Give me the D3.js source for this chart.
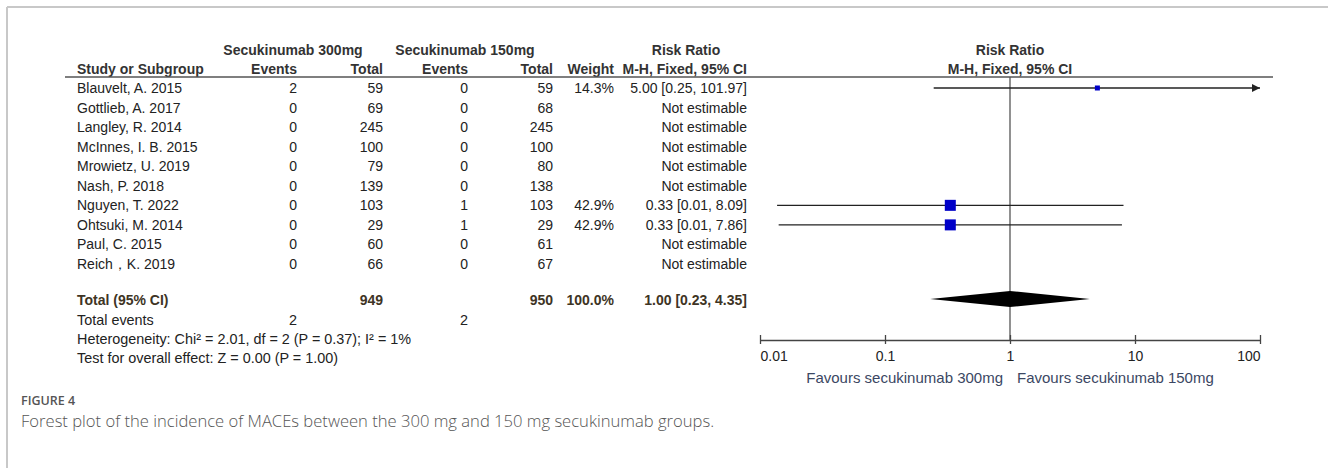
<!DOCTYPE html>
<html>
<head>
<meta charset="utf-8">
<script src="https://cdn.jsdelivr.net/npm/d3@7"></script>
<style>
  html, body { margin: 0; padding: 0; background: #fff; }
  svg { display: block; }
  .tbl { font-family: "Liberation Sans", Arial, sans-serif; font-size: 14px; fill: #222; }
  .hdr { font-weight: bold; fill: #333; }
  .tot { font-weight: bold; fill: #3e3424; }
  .foot { font-size: 14.4px; }
  .fav { font-family: "Liberation Sans", Arial, sans-serif; font-size: 15px; fill: #3b4763; }
  .cap { font-family: "Open Sans", "Noto Sans", sans-serif; fill: #555; }
</style>
</head>
<body>
<svg id="chart" width="1328" height="468"></svg>
<script>
// Study-level data
const studies = ["Blauvelt, A. 2015", "Gottlieb, A. 2017", "Langley, R. 2014", "McInnes, I. B. 2015",
  "Mrowietz, U. 2019", "Nash, P. 2018", "Nguyen, T. 2022", "Ohtsuki, M. 2014", "Paul, C. 2015", "Reich，K. 2019"];
const events300 = [2, 0, 0, 0, 0, 0, 0, 0, 0, 0];
const total300  = [59, 69, 245, 100, 79, 139, 103, 29, 60, 66];
const events150 = [0, 0, 0, 0, 0, 0, 1, 1, 0, 0];
const total150  = [59, 68, 245, 100, 80, 138, 103, 29, 61, 67];
const weights   = [14.3, null, null, null, null, null, 42.9, 42.9, null, null];
const riskRatio = [5.00, null, null, null, null, null, 0.333, 0.333, null, null];
const ciLower   = [0.2452, null, null, null, null, null, 0.0137, 0.0141, null, null];
const ciUpper   = [101.97, null, null, null, null, null, 8.09, 7.86, null, null];

// Pooled result
const pooledTotal300 = 949, pooledTotal150 = 950, pooledWeight = 100.0;
const pooledRR = 1.00, pooledLower = 0.23, pooledUpper = 4.35;
const totalEvents300 = 2, totalEvents150 = 2;
const heterogeneityText = "Heterogeneity: Chi² = 2.01, df = 2 (P = 0.37); I² = 1%";
const overallEffectText = "Test for overall effect: Z = 0.00 (P = 1.00)";

// Axis
const axisTicks = [0.01, 0.1, 1, 10, 100];
const tickLabels = ["0.01", "0.1", "1", "10", "100"];
const favoursLeft = "Favours secukinumab 300mg";
const favoursRight = "Favours secukinumab 150mg";

const captionLabel = "FIGURE 4";
const captionText = "Forest plot of the incidence of MACEs between the 300 mg and 150 mg secukinumab groups.";

const svg = d3.select("#chart");

// frame
svg.append("line").attr("x1", 7).attr("x2", 1328).attr("y1", 7).attr("y2", 7)
  .attr("stroke", "#c8c8c8").attr("stroke-width", 2);
svg.append("line").attr("x1", 7).attr("x2", 7).attr("y1", 7).attr("y2", 468)
  .attr("stroke", "#c8c8c8").attr("stroke-width", 2);

const x = d3.scaleLog().domain([0.01, 100]).range([760, 1260]);
const rowY = d3.scalePoint().domain(d3.range(studies.length)).range([88, 264]);
const side = d3.scaleLinear().domain([0, 100]).range([2, 23]);

const col = { study: 77, ev300: 297, tot300: 383, ev150: 468, tot150: 553, weight: 614, rr: 747 };
const fmt2 = d3.format(".2f");
const ciText = (m, lo, hi) => `${fmt2(m)} [${fmt2(lo)}, ${fmt2(hi)}]`;

const tbl = svg.append("g").attr("class", "tbl");
function txt(xp, y, s, anchor, cls) {
  return tbl.append("text").attr("x", xp).attr("y", y + 5)
    .attr("text-anchor", anchor || "start").attr("class", cls || null).text(s);
}

// headers
const h1 = 50, h2 = 69;
txt((216 + 370) / 2, h1, "Secukinumab 300mg", "middle", "hdr");
txt((390 + 540) / 2, h1, "Secukinumab 150mg", "middle", "hdr");
txt(686, h1, "Risk Ratio", "middle", "hdr");
txt(x(1), h1, "Risk Ratio", "middle", "hdr");
txt(col.study, h2, "Study or Subgroup", "start", "hdr");
txt(col.ev300, h2, "Events", "end", "hdr");
txt(col.tot300, h2, "Total", "end", "hdr");
txt(col.ev150, h2, "Events", "end", "hdr");
txt(col.tot150, h2, "Total", "end", "hdr");
txt(col.weight, h2, "Weight", "end", "hdr");
txt(col.rr, h2, "M-H, Fixed, 95% CI", "end", "hdr");
txt(x(1), h2, "M-H, Fixed, 95% CI", "middle", "hdr");

svg.append("line").attr("x1", 65).attr("x2", 1273).attr("y1", 77).attr("y2", 77)
  .attr("stroke", "#555").attr("stroke-width", 1.5);

// study rows
studies.forEach((s, i) => {
  const y = rowY(i);
  txt(col.study, y, s);
  txt(col.ev300, y, events300[i], "end");
  txt(col.tot300, y, total300[i], "end");
  txt(col.ev150, y, events150[i], "end");
  txt(col.tot150, y, total150[i], "end");
  if (weights[i] != null) txt(col.weight, y, weights[i].toFixed(1) + "%", "end");
  txt(col.rr, y, riskRatio[i] != null ? ciText(riskRatio[i], ciLower[i], ciUpper[i]) : "Not estimable", "end");
});

// totals
const yTot = 300, yEv = 320, yHet = 339, yTest = 358;
txt(col.study, yTot, "Total (95% CI)", "start", "tot");
txt(col.tot300, yTot, pooledTotal300, "end", "tot");
txt(col.tot150, yTot, pooledTotal150, "end", "tot");
txt(col.weight, yTot, pooledWeight.toFixed(1) + "%", "end", "tot");
txt(col.rr, yTot, ciText(pooledRR, pooledLower, pooledUpper), "end", "tot");
txt(col.study, yEv, "Total events", "start", "foot");
txt(col.ev300, yEv, totalEvents300, "end", "foot");
txt(col.ev150, yEv, totalEvents150, "end", "foot");
txt(col.study, yHet, heterogeneityText, "start", "foot");
txt(col.study, yTest, overallEffectText, "start", "foot");

// plot area
const axisY = 340;
const plot = svg.append("g");
plot.append("line").attr("x1", x(1)).attr("x2", x(1)).attr("y1", 77).attr("y2", axisY)
  .attr("stroke", "#555").attr("stroke-width", 1.3);

const [xmin, xmax] = x.range();
studies.forEach((s, i) => {
  if (riskRatio[i] == null) return;
  const y = rowY(i);
  const x1 = Math.max(xmin, x(ciLower[i]));
  const x2 = Math.min(xmax, x(ciUpper[i]));
  plot.append("line").attr("x1", x1).attr("x2", x2).attr("y1", y).attr("y2", y)
    .attr("stroke", "#222").attr("stroke-width", 1.3);
  if (ciUpper[i] > x.domain()[1]) {
    plot.append("path").attr("d", `M${xmax},${y} l-8,-4 l0,8 z`).attr("fill", "#222");
  }
  if (ciLower[i] < x.domain()[0]) {
    plot.append("path").attr("d", `M${xmin},${y} l8,-4 l0,8 z`).attr("fill", "#222");
  }
  const w = side(weights[i]);
  plot.append("rect").attr("x", x(riskRatio[i]) - w / 2).attr("y", y - w / 2)
    .attr("width", w).attr("height", w).attr("fill", "#0000c8");
});

// pooled diamond
plot.append("path")
  .attr("d", `M${x(pooledLower)},${yTot - 1} L${x(pooledRR)},${yTot - 9} L${x(pooledUpper)},${yTot - 1} L${x(pooledRR)},${yTot + 7} Z`)
  .attr("fill", "#000");

// axis
const axis = d3.axisBottom(x).tickValues(axisTicks).tickFormat((d, i) => tickLabels[i]).tickSize(0).tickPadding(0);
const ag = svg.append("g").attr("transform", `translate(0,${axisY})`).call(axis);
ag.select(".domain").attr("stroke", "#444").attr("stroke-width", 1.5);
ag.selectAll(".tick line").attr("y1", -5).attr("y2", 4).attr("stroke", "#444").attr("stroke-width", 1.3);
ag.selectAll(".tick text").attr("y", 11).attr("dy", "0.71em")
  .attr("font-family", "Liberation Sans, Arial, sans-serif").attr("font-size", 14).attr("fill", "#222")
  .attr("text-anchor", (d, i) => i === 0 ? "start" : i === axisTicks.length - 1 ? "end" : "middle");

svg.append("text").attr("class", "fav").attr("x", x(1) - 7).attr("y", 383).attr("text-anchor", "end").text(favoursLeft);
svg.append("text").attr("class", "fav").attr("x", x(1) + 7).attr("y", 383).attr("text-anchor", "start").text(favoursRight);

// caption
svg.append("text").attr("class", "cap").attr("x", 21).attr("y", 405)
  .attr("font-size", 12.5).attr("font-weight", 600).attr("fill", "#666").text(captionLabel);
svg.append("text").attr("class", "cap").attr("x", 21).attr("y", 427)
  .attr("font-size", 16.6).attr("font-weight", 300).text(captionText);
</script>
</body>
</html>
